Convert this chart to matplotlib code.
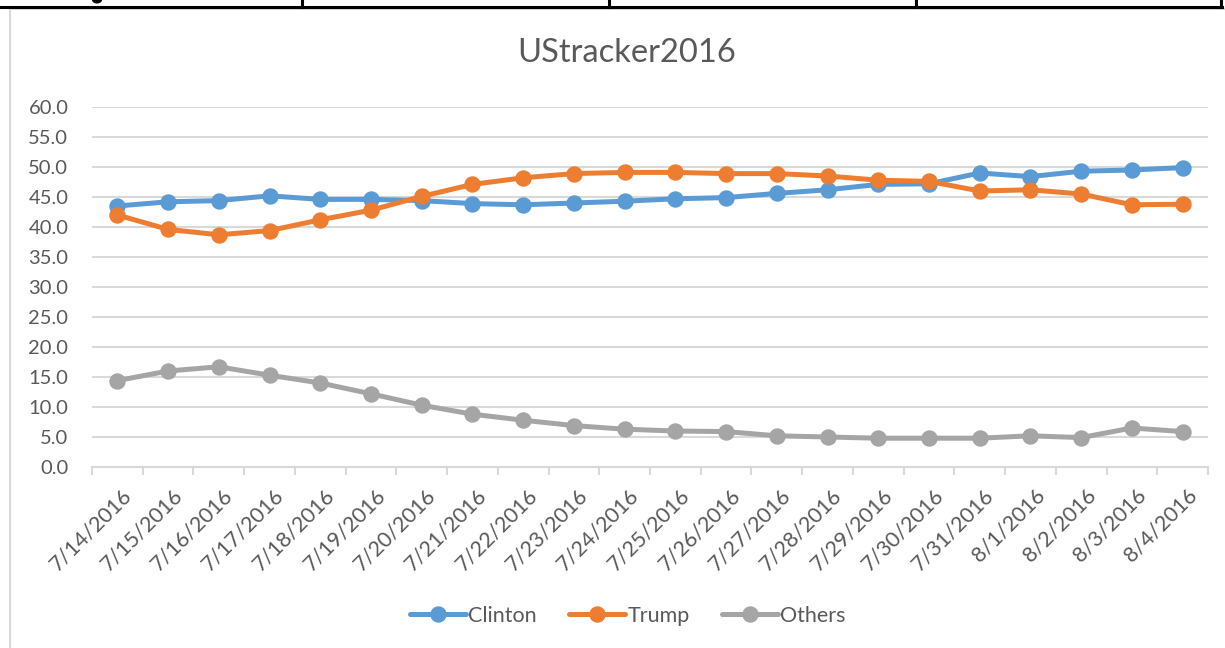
import matplotlib
matplotlib.use("Agg")
import matplotlib.pyplot as plt
from matplotlib.patches import Rectangle, Ellipse
from matplotlib.lines import Line2D
import matplotlib.transforms as mtransforms

plt.rcParams['font.family'] = ['Lato', 'DejaVu Sans']

dates = ["7/14/2016", "7/15/2016", "7/16/2016", "7/17/2016", "7/18/2016", "7/19/2016",
         "7/20/2016", "7/21/2016", "7/22/2016", "7/23/2016", "7/24/2016", "7/25/2016",
         "7/26/2016", "7/27/2016", "7/28/2016", "7/29/2016", "7/30/2016", "7/31/2016",
         "8/1/2016", "8/2/2016", "8/3/2016", "8/4/2016"]
clinton = [43.5, 44.2, 44.4, 45.2, 44.6, 44.6, 44.4, 43.9, 43.7, 44.0, 44.3, 44.7,
           44.9, 45.6, 46.2, 47.1, 47.2, 49.0, 48.4, 49.3, 49.5, 49.9]
trump = [42.0, 39.6, 38.7, 39.4, 41.2, 42.8, 45.1, 47.1, 48.2, 48.9, 49.1, 49.1,
         48.9, 48.9, 48.5, 47.8, 47.6, 46.0, 46.2, 45.5, 43.7, 43.8]
others = [14.4, 16.0, 16.7, 15.3, 14.0, 12.2, 10.3, 8.8, 7.8, 6.9, 6.3, 6.0,
          5.9, 5.2, 5.0, 4.8, 4.8, 4.8, 5.2, 4.9, 6.5, 5.9]
series_names = ["Clinton", "Trump", "Others"]
colors = ["#5B9BD5", "#ED7D31", "#A5A5A5"]
yticks = [0, 5, 10, 15, 20, 25, 30, 35, 40, 45, 50, 55, 60]

W, H = 1225, 648
fig = plt.figure(figsize=(W / 100, H / 100), dpi=100)
fig.patch.set_facecolor("white")

# chart frame and document table remnants
fig.add_artist(Rectangle((10 / W, -0.1), 1.2, 1 - 9 / H + 0.1, transform=fig.transFigure,
                         fill=False, edgecolor="#D9D9D9", linewidth=1.5))
fig.add_artist(Line2D([0, 1222 / W], [1 - 7 / H, 1 - 7 / H], transform=fig.transFigure,
                      color="black", linewidth=2.2))
for xv in [302, 609, 916, 1221]:
    fig.add_artist(Line2D([xv / W, xv / W], [1 - 7 / H, 1.0], transform=fig.transFigure,
                          color="black", linewidth=2.2))
fig.add_artist(Ellipse((97 / W, 1.0), 10 / W, 7 / H, transform=fig.transFigure,
                       facecolor="black", edgecolor="none"))

ax = fig.add_axes([92 / W, 1 - 467 / H, (1208 - 92) / W, (467 - 107) / H])
x = list(range(len(dates)))
for vals, name, c in zip([clinton, trump, others], series_names, colors):
    ax.plot(x, vals, color=c, linewidth=3.6, marker="o", markersize=10.8,
            label=name, solid_capstyle="round", zorder=3)

ax.set_xlim(-0.5, len(dates) - 0.5)
ax.set_ylim(0, 60)
ax.set_yticks(yticks)
ax.set_yticklabels([f"{v:.1f}" for v in yticks])
ax.grid(axis="y", color="#D9D9D9", linewidth=1.5, zorder=0)
ax.set_axisbelow(True)
for s in ["left", "right", "top"]:
    ax.spines[s].set_visible(False)
ax.spines["bottom"].set_color("#D9D9D9")
ax.spines["bottom"].set_linewidth(1.5)
ax.tick_params(axis="y", length=0, pad=17, labelsize=14.5, labelcolor="#595959")

ax.set_xticks(x)
ax.set_xticklabels(dates)
ax.set_xticks([i - 0.5 for i in range(len(dates) + 1)], minor=True)
ax.tick_params(axis="x", which="major", length=0, pad=13, labelsize=15.5, labelcolor="#595959")
ax.tick_params(axis="x", which="minor", length=6, width=1.5, color="#D9D9D9")
offset = mtransforms.ScaledTranslation(4 / 100, 0, fig.dpi_scale_trans)
for lab in ax.get_xticklabels():
    lab.set_rotation(45)
    lab.set_ha("right")
    lab.set_va("top")
    lab.set_rotation_mode("anchor")
    lab.set_transform(lab.get_transform() + offset)

fig.text(627 / W, 1 - 53 / H, "UStracker2016", fontsize=23.5, color="#595959",
         ha="center", va="center")

leg = fig.legend(loc="center", bbox_to_anchor=(628 / W, 1 - 616 / H), ncol=3,
                 frameon=False, fontsize=15.5, handlelength=2.6, handletextpad=0.1,
                 columnspacing=1.5)
for t in leg.get_texts():
    t.set_color("#595959")

fig.savefig("out.png", dpi=100, facecolor="white")
